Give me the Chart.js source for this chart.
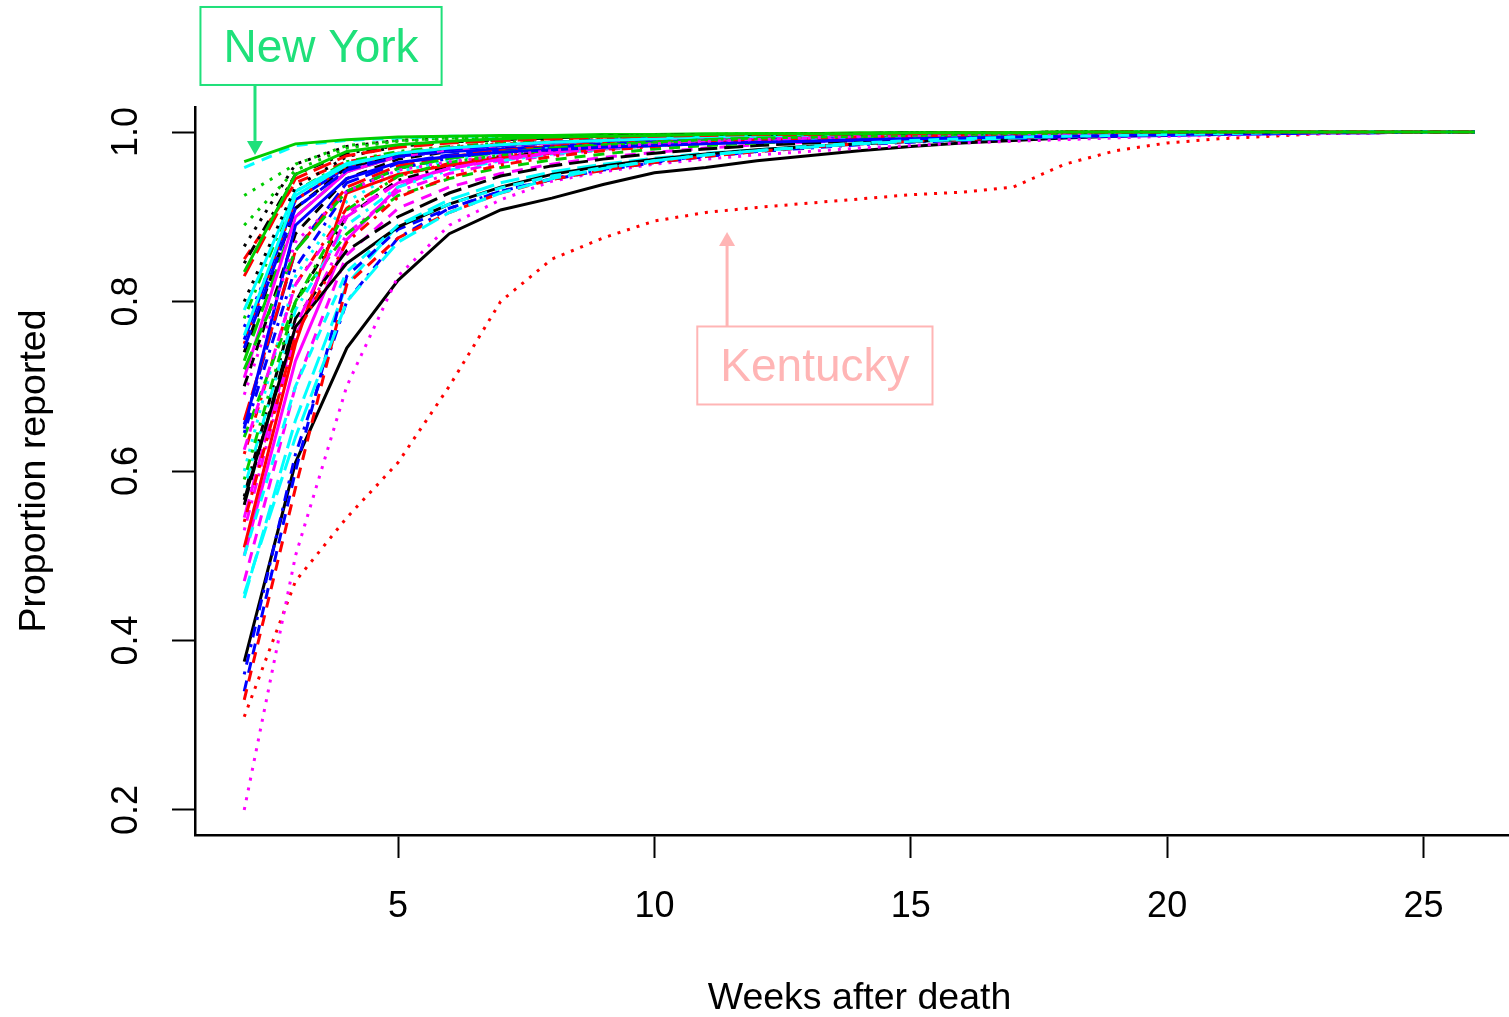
<!DOCTYPE html>
<html>
<head>
<meta charset="utf-8">
<title>Proportion reported by weeks after death</title>
<script src="https://cdn.jsdelivr.net/npm/chart.js@4/dist/chart.umd.min.js"></script>
<style>
  html, body { margin: 0; padding: 0; background: #fff; overflow: hidden; }
  canvas { display: block; }
</style>
</head>
<body>
<canvas id="chart" width="1524" height="1017"></canvas>
<script>
// Weeks after death (x values shared by every state)
const weeks = [2, 3, 4, 5, 6, 7, 8, 9, 10, 11, 12, 13, 14, 15, 16, 17, 18, 19, 20, 21, 22, 23, 24, 25, 26];
const xTicks = [5, 10, 15, 20, 25];
const yTicks = [0.2, 0.4, 0.6, 0.8, 1.0];

// The two highlighted states
const newYork = [0.965, 0.986, 0.991, 0.994, 0.995, 0.996, 0.996, 0.997, 0.997, 0.998,
  0.998, 0.998, 0.999, 0.999, 0.999, 0.999, 1, 1, 1, 1, 1, 1, 1, 1, 1];
const kentucky = [0.31, 0.47, 0.545, 0.61, 0.70, 0.80, 0.85, 0.875, 0.895, 0.905,
  0.911, 0.916, 0.921, 0.926, 0.929, 0.935, 0.962, 0.978, 0.987, 0.992, 0.995, 0.998, 0.999, 1, 1];

// All other states, in plotting order
const otherStates = [
  [0.375, 0.61, 0.745, 0.825, 0.88, 0.908, 0.922, 0.938, 0.952, 0.958, 0.966, 0.972, 0.978, 0.983, 0.987, 0.99, 0.993, 0.995, 0.997, 0.998, 0.999, 1, 1, 1, 1],
  [0.85, 0.94, 0.965, 0.975, 0.98, 0.984, 0.987, 0.989, 0.991, 0.992, 0.993, 0.994, 0.995, 0.996, 0.997, 0.997, 0.998, 0.998, 0.999, 0.999, 1, 1, 1, 1, 1],
  [0.925, 0.962, 0.984, 0.99, 0.993, 0.994, 0.995, 0.996, 0.996, 0.997, 0.997, 0.997, 0.998, 0.998, 0.998, 0.999, 0.999, 0.999, 0.999, 1, 1, 1, 1, 1, 1],
  [0.36, 0.62, 0.80, 0.875, 0.91, 0.93, 0.945, 0.956, 0.965, 0.972, 0.977, 0.981, 0.985, 0.988, 0.99, 0.992, 0.994, 0.996, 0.997, 0.998, 0.999, 1, 1, 1, 1],
  [0.45, 0.66, 0.82, 0.89, 0.92, 0.94, 0.953, 0.962, 0.969, 0.975, 0.979, 0.983, 0.986, 0.989, 0.991, 0.993, 0.995, 0.996, 0.997, 0.998, 0.999, 1, 1, 1, 1],
  [0.50, 0.73, 0.873, 0.935, 0.96, 0.97, 0.976, 0.981, 0.985, 0.988, 0.99, 0.992, 0.994, 0.995, 0.996, 0.997, 0.998, 0.998, 0.999, 0.999, 1, 1, 1, 1, 1],
  [0.70, 0.88, 0.945, 0.968, 0.977, 0.982, 0.986, 0.989, 0.991, 0.993, 0.994, 0.995, 0.996, 0.997, 0.997, 0.998, 0.998, 0.999, 0.999, 1, 1, 1, 1, 1, 1],
  [0.78, 0.93, 0.965, 0.977, 0.983, 0.987, 0.99, 0.992, 0.993, 0.994, 0.995, 0.996, 0.997, 0.997, 0.998, 0.998, 0.999, 0.999, 1, 1, 1, 1, 1, 1, 1],
  [0.655, 0.86, 0.94, 0.963, 0.973, 0.979, 0.984, 0.987, 0.99, 0.992, 0.993, 0.994, 0.995, 0.996, 0.997, 0.998, 0.998, 0.999, 0.999, 1, 1, 1, 1, 1, 1],
  [0.79, 0.93, 0.963, 0.974, 0.98, 0.984, 0.987, 0.989, 0.991, 0.993, 0.994, 0.995, 0.996, 0.997, 0.997, 0.998, 0.998, 0.999, 0.999, 1, 1, 1, 1, 1, 1],
  [0.47, 0.70, 0.855, 0.91, 0.935, 0.951, 0.962, 0.97, 0.976, 0.981, 0.985, 0.988, 0.99, 0.992, 0.994, 0.995, 0.996, 0.997, 0.998, 0.999, 1, 1, 1, 1, 1],
  [0.865, 0.962, 0.983, 0.99, 0.993, 0.994, 0.995, 0.996, 0.997, 0.997, 0.998, 0.998, 0.998, 0.999, 0.999, 0.999, 1, 1, 1, 1, 1, 1, 1, 1, 1],
  [0.62, 0.82, 0.91, 0.948, 0.963, 0.972, 0.978, 0.982, 0.986, 0.989, 0.991, 0.993, 0.994, 0.995, 0.996, 0.997, 0.998, 0.998, 0.999, 0.999, 1, 1, 1, 1, 1],
  [0.73, 0.90, 0.953, 0.971, 0.979, 0.984, 0.987, 0.99, 0.992, 0.993, 0.994, 0.995, 0.996, 0.997, 0.998, 0.998, 0.999, 0.999, 1, 1, 1, 1, 1, 1, 1],
  [0.755, 0.92, 0.958, 0.972, 0.977, 0.98, 0.982, 0.984, 0.986, 0.987, 0.988, 0.989, 0.99, 0.991, 0.992, 0.993, 0.994, 0.995, 0.996, 0.997, 0.998, 0.999, 0.999, 1, 1],
  [0.958, 0.984, 0.99, 0.993, 0.995, 0.995, 0.996, 0.996, 0.997, 0.997, 0.998, 0.998, 0.998, 0.999, 0.999, 0.999, 0.999, 1, 1, 1, 1, 1, 1, 1, 1],
  [0.20, 0.50, 0.70, 0.83, 0.89, 0.92, 0.942, 0.953, 0.962, 0.968, 0.973, 0.977, 0.981, 0.984, 0.987, 0.989, 0.991, 0.993, 0.995, 0.996, 0.997, 0.998, 0.999, 1, 1],
  [0.57, 0.80, 0.90, 0.943, 0.96, 0.97, 0.977, 0.982, 0.986, 0.989, 0.991, 0.993, 0.994, 0.995, 0.996, 0.997, 0.998, 0.998, 0.999, 0.999, 1, 1, 1, 1, 1],
  [0.66, 0.86, 0.935, 0.96, 0.971, 0.978, 0.983, 0.987, 0.99, 0.992, 0.993, 0.994, 0.995, 0.996, 0.997, 0.998, 0.998, 0.999, 0.999, 1, 1, 1, 1, 1, 1],
  [0.34, 0.60, 0.83, 0.885, 0.91, 0.93, 0.944, 0.955, 0.964, 0.971, 0.977, 0.982, 0.986, 0.989, 0.991, 0.993, 0.995, 0.996, 0.997, 0.998, 0.999, 1, 1, 1, 1],
  [0.60, 0.83, 0.918, 0.953, 0.967, 0.975, 0.981, 0.985, 0.988, 0.99, 0.992, 0.994, 0.995, 0.996, 0.997, 0.998, 0.998, 0.999, 0.999, 1, 1, 1, 1, 1, 1],
  [0.53, 0.76, 0.88, 0.93, 0.951, 0.964, 0.973, 0.979, 0.984, 0.987, 0.99, 0.992, 0.994, 0.995, 0.996, 0.997, 0.998, 0.998, 0.999, 0.999, 1, 1, 1, 1, 1],
  [0.56, 0.78, 0.86, 0.90, 0.928, 0.948, 0.96, 0.968, 0.975, 0.98, 0.984, 0.987, 0.99, 0.992, 0.994, 0.995, 0.996, 0.997, 0.998, 0.999, 0.999, 1, 1, 1, 1],
  [0.51, 0.75, 0.928, 0.95, 0.961, 0.969, 0.975, 0.98, 0.984, 0.987, 0.99, 0.992, 0.993, 0.995, 0.996, 0.997, 0.998, 0.998, 0.999, 0.999, 1, 1, 1, 1, 1],
  [0.64, 0.80, 0.88, 0.925, 0.945, 0.958, 0.967, 0.974, 0.98, 0.984, 0.987, 0.99, 0.992, 0.994, 0.995, 0.996, 0.997, 0.998, 0.999, 0.999, 1, 1, 1, 1, 1],
  [0.77, 0.91, 0.955, 0.97, 0.978, 0.983, 0.987, 0.99, 0.992, 0.993, 0.994, 0.995, 0.996, 0.997, 0.998, 0.998, 0.999, 0.999, 1, 1, 1, 1, 1, 1, 1],
  [0.58, 0.79, 0.89, 0.935, 0.955, 0.966, 0.974, 0.98, 0.984, 0.988, 0.99, 0.992, 0.994, 0.995, 0.996, 0.997, 0.998, 0.999, 0.999, 1, 1, 1, 1, 1, 1],
  [0.545, 0.77, 0.90, 0.94, 0.957, 0.968, 0.976, 0.981, 0.985, 0.989, 0.991, 0.993, 0.995, 0.996, 0.997, 0.998, 0.998, 0.999, 0.999, 1, 1, 1, 1, 1, 1],
  [0.566, 0.77, 0.845, 0.888, 0.915, 0.935, 0.95, 0.96, 0.968, 0.974, 0.979, 0.983, 0.986, 0.989, 0.991, 0.993, 0.995, 0.996, 0.997, 0.998, 0.999, 1, 1, 1, 1],
  [0.33, 0.58, 0.82, 0.875, 0.905, 0.928, 0.944, 0.955, 0.964, 0.971, 0.977, 0.982, 0.986, 0.989, 0.991, 0.993, 0.995, 0.996, 0.997, 0.998, 0.999, 1, 1, 1, 1],
  [0.89, 0.955, 0.981, 0.989, 0.992, 0.994, 0.995, 0.996, 0.997, 0.997, 0.998, 0.998, 0.998, 0.999, 0.999, 0.999, 1, 1, 1, 1, 1, 1, 1, 1, 1],
  [0.645, 0.84, 0.93, 0.957, 0.969, 0.977, 0.982, 0.986, 0.989, 0.991, 0.993, 0.994, 0.995, 0.996, 0.997, 0.998, 0.998, 0.999, 0.999, 1, 1, 1, 1, 1, 1],
  [0.455, 0.64, 0.80, 0.87, 0.905, 0.928, 0.945, 0.957, 0.966, 0.973, 0.978, 0.982, 0.986, 0.989, 0.991, 0.993, 0.995, 0.996, 0.997, 0.998, 0.999, 1, 1, 1, 1],
  [0.71, 0.90, 0.953, 0.971, 0.979, 0.984, 0.987, 0.99, 0.992, 0.993, 0.994, 0.995, 0.996, 0.997, 0.998, 0.998, 0.999, 0.999, 1, 1, 1, 1, 1, 1, 1],
  [0.74, 0.91, 0.958, 0.974, 0.981, 0.985, 0.988, 0.99, 0.992, 0.994, 0.995, 0.996, 0.997, 0.997, 0.998, 0.998, 0.999, 0.999, 1, 1, 1, 1, 1, 1, 1],
  [0.75, 0.92, 0.96, 0.975, 0.982, 0.986, 0.989, 0.991, 0.993, 0.994, 0.995, 0.996, 0.997, 0.998, 0.998, 0.999, 0.999, 1, 1, 1, 1, 1, 1, 1, 1],
  [0.59, 0.80, 0.908, 0.948, 0.964, 0.973, 0.979, 0.984, 0.987, 0.99, 0.992, 0.994, 0.995, 0.996, 0.997, 0.998, 0.998, 0.999, 0.999, 1, 1, 1, 1, 1, 1],
  [0.745, 0.91, 0.955, 0.971, 0.979, 0.984, 0.988, 0.99, 0.992, 0.994, 0.995, 0.996, 0.997, 0.997, 0.998, 0.998, 0.999, 0.999, 1, 1, 1, 1, 1, 1, 1],
  [0.76, 0.925, 0.961, 0.975, 0.981, 0.985, 0.988, 0.99, 0.992, 0.994, 0.995, 0.996, 0.997, 0.997, 0.998, 0.998, 0.999, 0.999, 1, 1, 1, 1, 1, 1, 1],
  [0.625, 0.82, 0.905, 0.94, 0.957, 0.967, 0.975, 0.981, 0.985, 0.988, 0.991, 0.993, 0.995, 0.996, 0.997, 0.998, 0.998, 0.999, 0.999, 1, 1, 1, 1, 1, 1],
  [0.80, 0.935, 0.971, 0.983, 0.988, 0.991, 0.993, 0.995, 0.996, 0.997, 0.997, 0.998, 0.998, 0.999, 0.999, 0.999, 1, 1, 1, 1, 1, 1, 1, 1, 1],
  [0.54, 0.76, 0.87, 0.923, 0.947, 0.961, 0.971, 0.978, 0.983, 0.987, 0.99, 0.992, 0.994, 0.995, 0.996, 0.997, 0.998, 0.998, 0.999, 0.999, 1, 1, 1, 1, 1],
  [0.72, 0.86, 0.93, 0.957, 0.969, 0.976, 0.981, 0.985, 0.988, 0.991, 0.993, 0.994, 0.995, 0.996, 0.997, 0.998, 0.998, 0.999, 0.999, 1, 1, 1, 1, 1, 1],
  [0.65, 0.89, 0.945, 0.964, 0.971, 0.976, 0.979, 0.982, 0.984, 0.986, 0.988, 0.989, 0.991, 0.992, 0.993, 0.994, 0.995, 0.996, 0.997, 0.998, 0.998, 0.999, 0.999, 1, 1],
  [0.50, 0.70, 0.835, 0.89, 0.915, 0.934, 0.948, 0.958, 0.966, 0.973, 0.978, 0.983, 0.987, 0.99, 0.992, 0.994, 0.995, 0.996, 0.997, 0.998, 0.999, 1, 1, 1, 1],
  [0.69, 0.87, 0.93, 0.955, 0.965, 0.972, 0.978, 0.983, 0.986, 0.989, 0.991, 0.993, 0.995, 0.996, 0.997, 0.998, 0.998, 0.999, 1, 1, 1, 1, 1, 1, 1],
  [0.845, 0.95, 0.975, 0.984, 0.988, 0.991, 0.993, 0.995, 0.996, 0.997, 0.997, 0.998, 0.998, 0.999, 0.999, 0.999, 1, 1, 1, 1, 1, 1, 1, 1, 1],
  [0.83, 0.945, 0.972, 0.982, 0.987, 0.99, 0.992, 0.994, 0.995, 0.996, 0.997, 0.997, 0.998, 0.998, 0.999, 0.999, 1, 1, 1, 1, 1, 1, 1, 1, 1],
  [0.835, 0.95, 0.977, 0.985, 0.989, 0.992, 0.994, 0.995, 0.996, 0.997, 0.998, 0.998, 0.998, 0.999, 0.999, 0.999, 1, 1, 1, 1, 1, 1, 1, 1, 1]
];

// Labelled call-outs: box centre and arrow tip, in data units
const notes = [
  { label: 'New York', color: '#1FE07A', box: [3.498, 1.1015], tip: [2.21, 0.973] },
  { label: 'Kentucky', color: '#FFB5B5', box: [13.13, 0.7245], tip: [11.417, 0.882] }
];

// matplot-style cycling of colours and line types
const palette = ['#000000', '#FF0000', '#00CD00', '#0000FF', '#00FFFF', '#FF00FF'];
const lineTypes = [[], [11, 8], [3, 7], [3, 7, 11, 7], [19, 7]];
const FONT = "'Liberation Sans', Arial, sans-serif";

// Put the highlighted states back in their column positions
const series = otherStates.slice();
series.splice(7, 0, kentucky);
series.splice(20, 0, newYork);

// Draw the call-out boxes and arrows
const notesPlugin = {
  id: 'notes',
  afterDraw(chart) {
    const { ctx, scales: { x, y } } = chart;
    ctx.save();
    ctx.font = `46px ${FONT}`;
    ctx.textAlign = 'center';
    ctx.textBaseline = 'middle';
    notes.forEach(n => {
      const cx = x.getPixelForValue(n.box[0]);
      const cy = y.getPixelForValue(n.box[1]);
      const tx = x.getPixelForValue(n.tip[0]);
      const ty = y.getPixelForValue(n.tip[1]);
      const w = ctx.measureText(n.label).width + 46;
      const h = 78;

      ctx.strokeStyle = n.color;
      ctx.fillStyle = n.color;
      ctx.lineWidth = 2;
      ctx.strokeRect(cx - w / 2, cy - h / 2, w, h);
      ctx.fillText(n.label, cx, cy + 3);

      // arrow leaves the box edge facing the tip
      const dir = ty > cy ? 1 : -1;
      const startY = cy + dir * h / 2;
      const head = 14;
      ctx.lineWidth = 3;
      ctx.beginPath();
      ctx.moveTo(tx, startY);
      ctx.lineTo(tx, ty - dir * head);
      ctx.stroke();
      ctx.beginPath();
      ctx.moveTo(tx, ty);
      ctx.lineTo(tx - 8, ty - dir * head);
      ctx.lineTo(tx + 8, ty - dir * head);
      ctx.closePath();
      ctx.fill();
    });
    ctx.restore();
  }
};

const axisGrid = { drawOnChartArea: false, drawTicks: true, tickLength: 23, tickWidth: 2, color: '#000' };
const axisBorder = { display: true, color: '#000', width: 2.5 };

new Chart(document.getElementById('chart').getContext('2d'), {
  type: 'line',
  data: {
    datasets: series.map((vals, i) => ({
      data: weeks.map((w, k) => ({ x: w, y: vals[k] })),
      borderColor: palette[i % palette.length],
      borderDash: lineTypes[i % lineTypes.length],
      borderWidth: 3,
      pointRadius: 0,
      fill: false,
      tension: 0,
      order: series.length - i
    }))
  },
  options: {
    responsive: false,
    animation: false,
    devicePixelRatio: 1,
    layout: { padding: { top: 107, left: 0, right: 0, bottom: 0 } },
    plugins: { legend: { display: false }, tooltip: { enabled: false } },
    scales: {
      x: {
        type: 'linear',
        min: 1.04,
        max: 26.96,
        afterBuildTicks: s => { s.ticks = xTicks.map(v => ({ value: v })); },
        afterFit: s => { s.height = 182; },
        grid: axisGrid,
        border: axisBorder,
        ticks: {
          color: '#000',
          font: { family: FONT, size: 36 },
          padding: 27,
          maxRotation: 0,
          autoSkip: false,
          callback: v => String(v)
        },
        title: {
          display: true,
          text: 'Weeks after death',
          color: '#000',
          font: { family: FONT, size: 37.5, lineHeight: 1 },
          padding: { top: 0, bottom: 0 }
        }
      },
      y: {
        type: 'linear',
        min: 0.1705,
        max: 1.0295,
        afterBuildTicks: s => { s.ticks = yTicks.map(v => ({ value: v })); },
        afterFit: s => { s.width = 195; },
        grid: axisGrid,
        border: axisBorder,
        ticks: {
          color: '#000',
          font: { family: FONT, size: 36 },
          minRotation: 90,
          maxRotation: 90,
          crossAlign: 'center',
          padding: 20,
          autoSkip: false,
          callback: v => v.toFixed(1)
        },
        title: {
          display: true,
          text: 'Proportion reported',
          color: '#000',
          font: { family: FONT, size: 37.5, lineHeight: 1 },
          padding: { top: 16, bottom: 0 }
        }
      }
    }
  },
  plugins: [notesPlugin]
});
</script>
</body>
</html>
